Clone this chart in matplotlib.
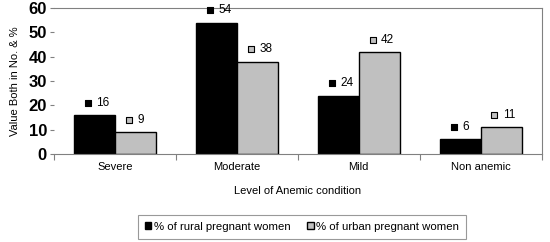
import matplotlib.pyplot as plt
import numpy as np

plt.rcParams['font.family'] = ['Liberation Sans', 'DejaVu Sans']

categories = ['Severe', 'Moderate', 'Mild', 'Non anemic']
rural = [16, 54, 24, 6]
urban = [9, 38, 42, 11]
series_names = ['% of rural pregnant women', '% of urban pregnant women']
colors = ['#000000', '#C0C0C0']

fig = plt.figure(figsize=(5.5, 2.42), dpi=100)
ax = fig.add_axes([0.098, 0.3636, 0.887, 0.6034])

x = np.arange(len(categories)) + 0.5
w = 0.335
handles = []
for i, (vals, col) in enumerate(zip([rural, urban], colors)):
    pos = x + (i - 0.5) * w
    h = ax.bar(pos, vals, width=w, color=col, edgecolor='black', linewidth=1, zorder=2)
    handles.append(h)
    # value labels with small legend key
    ax.scatter(pos - 0.055, np.array(vals) + 5, marker='s', s=14, color=col,
               edgecolor='black', linewidth=0.8, zorder=3, clip_on=False)
    for p, v in zip(pos, vals):
        ax.text(p + 0.015, v + 5, str(v), ha='left', va='center', fontsize=8.5)

ax.set_xlim(0, 4)
ax.set_ylim(0, 60)
ax.set_yticks(range(0, 61, 10))
ax.set_yticklabels([str(t) for t in range(0, 61, 10)], fontsize=12, fontweight='bold')
ax.tick_params(axis='y', length=3, color='#808080', pad=2)

ax.set_xticks(np.arange(0, 5), minor=False)
ax.set_xticklabels([])
ax.set_xticks(x, minor=True)
ax.set_xticklabels(categories, minor=True, fontsize=8)
ax.tick_params(axis='x', which='major', length=4, color='#808080', direction='out')
ax.tick_params(axis='x', which='minor', length=0, pad=6)

for s in ['top', 'right', 'bottom', 'left']:
    ax.spines[s].set_color('#808080')
    ax.spines[s].set_linewidth(0.8)
ax.spines['left'].set_visible(False)

ax.set_xlabel('Level of Anemic condition', fontsize=8, labelpad=10)
ax.set_ylabel('Value Both in No. & %', fontsize=8, labelpad=6)

leg = fig.legend(handles, series_names, loc='lower center', bbox_to_anchor=(0.549, -0.01),
                 ncol=2, fontsize=8.2, frameon=True, fancybox=False, handlelength=0.6,
                 handleheight=0.6, handletextpad=0.2, columnspacing=1.5, borderpad=0.6)
leg.get_frame().set_edgecolor('#808080')
leg.get_frame().set_linewidth(0.8)

plt.savefig('out.png', dpi=100)
